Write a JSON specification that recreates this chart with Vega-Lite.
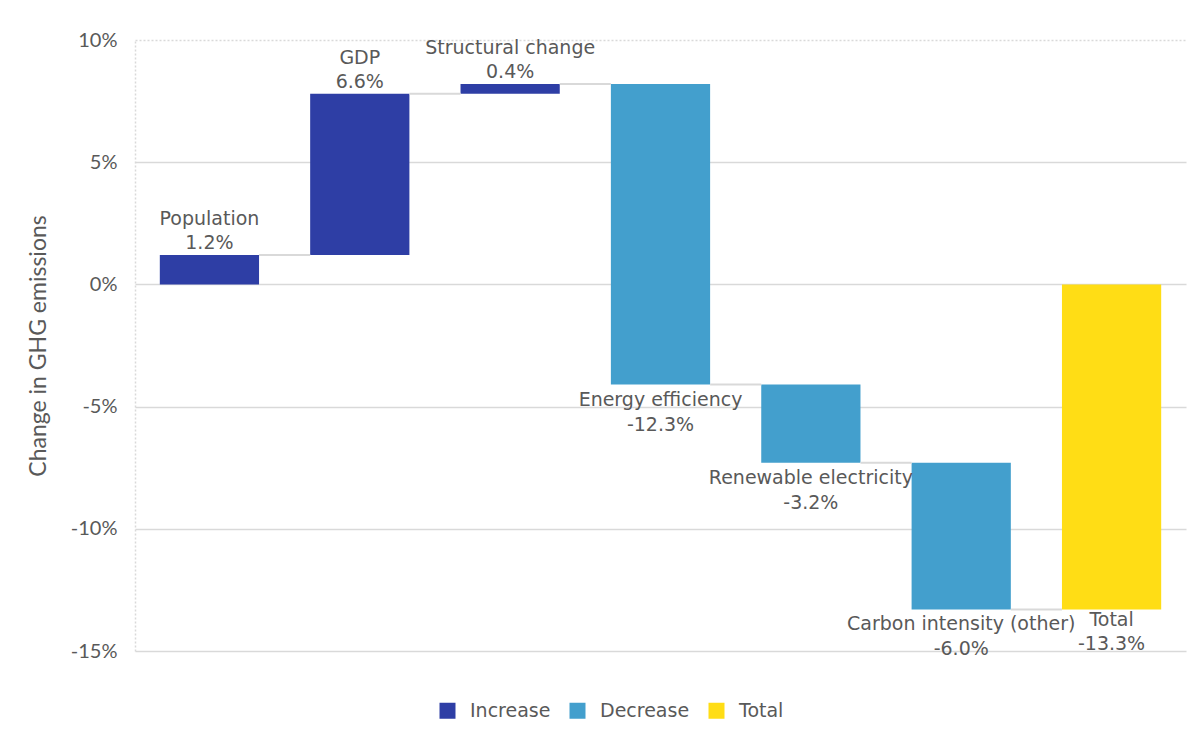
{
  "$schema": "https://vega.github.io/schema/vega-lite/v6.json",
  "width": 1051,
  "height": 611,
  "autosize": {"type": "none"},
  "padding": {"left": 135, "top": 40, "right": 8, "bottom": 100},
  "background": "white",
  "config": {"view": {"stroke": null}, "font": "DejaVu Sans"},
  "data": {
    "values": [
      {"cat": "Population", "next": "GDP", "start": 0, "end": 1.2, "type": "Increase", "lab": "1.2%"},
      {"cat": "GDP", "next": "Structural change", "start": 1.2, "end": 7.8, "type": "Increase", "lab": "6.6%"},
      {"cat": "Structural change", "next": "Energy efficiency", "start": 7.8, "end": 8.2, "type": "Increase", "lab": "0.4%"},
      {"cat": "Energy efficiency", "next": "Renewable electricity", "start": 8.2, "end": -4.1, "type": "Decrease", "lab": "-12.3%"},
      {"cat": "Renewable electricity", "next": "Carbon intensity (other)", "start": -4.1, "end": -7.3, "type": "Decrease", "lab": "-3.2%"},
      {"cat": "Carbon intensity (other)", "next": "Total", "start": -7.3, "end": -13.3, "type": "Decrease", "lab": "-6.0%"},
      {"cat": "Total", "next": null, "start": 0, "end": -13.3, "type": "Total", "lab": "-13.3%"}
    ]
  },
  "encoding": {
    "x": {
      "field": "cat",
      "type": "nominal",
      "sort": null,
      "scale": {
        "domain": ["Population", "GDP", "Structural change", "Energy efficiency", "Renewable electricity", "Carbon intensity (other)", "Total"],
        "paddingInner": 0.34,
        "paddingOuter": 0.165
      },
      "axis": null
    }
  },
  "layer": [
    {
      "mark": {"type": "bar"},
      "encoding": {
        "y": {
          "field": "start",
          "type": "quantitative",
          "title": "Change in GHG emissions",
          "scale": {"domain": [-15, 10], "nice": false, "zero": false},
          "axis": {
            "values": [-15, -10, -5, 0, 5, 10],
            "labelExpr": "datum.value + '%'",
            "grid": true,
            "gridColor": "#d9d9d9",
            "gridWidth": 1.5,
            "gridDash": {"condition": {"test": "datum.value == 10", "value": [2, 2]}, "value": []},
            "ticks": false,
            "domain": true,
            "domainColor": "#d9d9d9",
            "domainDash": [2, 2],
            "domainWidth": 1.5,
            "labelFont": "Lato",
            "labelFontSize": 20,
            "labelColor": "#595959",
            "labelPadding": 18,
            "titleFont": "Lato",
            "titleFontSize": 23,
            "titleFontWeight": "normal",
            "titleColor": "#595959",
            "titlePadding": 20
          }
        },
        "y2": {"field": "end"},
        "color": {
          "field": "type",
          "type": "nominal",
          "scale": {"domain": ["Increase", "Decrease", "Total"], "range": ["#2E3EA5", "#439FCD", "#FFDD15"]},
          "legend": {
            "title": null,
            "orient": "none",
            "direction": "horizontal",
            "legendX": 303,
            "legendY": 661,
            "symbolType": "square",
            "symbolSize": 256,
            "symbolStrokeWidth": 0,
            "labelFont": "DejaVu Sans",
            "labelFontSize": 19,
            "labelColor": "#595959",
            "labelOffset": 13,
            "columnPadding": 17
          }
        }
      }
    },
    {
      "transform": [{"filter": "datum.next != null"}],
      "mark": {"type": "rule", "color": "#d9d9d9", "strokeWidth": 2},
      "encoding": {
        "x": {"field": "cat", "type": "nominal", "bandPosition": 1},
        "x2": {"field": "next", "bandPosition": 0},
        "y": {"field": "end", "type": "quantitative", "title": "Change in GHG emissions"}
      }
    },
    {
      "transform": [{"filter": "datum.type == 'Increase'"}],
      "mark": {"type": "text", "baseline": "alphabetic", "dy": -30, "font": "DejaVu Sans", "fontSize": 19, "color": "#595959"},
      "encoding": {"y": {"field": "end", "type": "quantitative", "title": "Change in GHG emissions"}, "text": {"field": "cat"}}
    },
    {
      "transform": [{"filter": "datum.type == 'Increase'"}],
      "mark": {"type": "text", "baseline": "alphabetic", "dy": -6, "font": "DejaVu Sans", "fontSize": 19, "color": "#595959"},
      "encoding": {"y": {"field": "end", "type": "quantitative", "title": "Change in GHG emissions"}, "text": {"field": "lab"}}
    },
    {
      "transform": [{"filter": "datum.type == 'Decrease'"}],
      "mark": {"type": "text", "baseline": "alphabetic", "dy": 21, "font": "DejaVu Sans", "fontSize": 19, "color": "#595959"},
      "encoding": {"y": {"field": "end", "type": "quantitative", "title": "Change in GHG emissions"}, "text": {"field": "cat"}}
    },
    {
      "transform": [{"filter": "datum.type == 'Decrease'"}],
      "mark": {"type": "text", "baseline": "alphabetic", "dy": 46, "font": "DejaVu Sans", "fontSize": 19, "color": "#595959"},
      "encoding": {"y": {"field": "end", "type": "quantitative", "title": "Change in GHG emissions"}, "text": {"field": "lab"}}
    },
    {
      "transform": [{"filter": "datum.type == 'Total'"}],
      "mark": {"type": "text", "baseline": "alphabetic", "dy": 17, "font": "DejaVu Sans", "fontSize": 19, "color": "#595959"},
      "encoding": {"y": {"field": "end", "type": "quantitative", "title": "Change in GHG emissions"}, "text": {"field": "cat"}}
    },
    {
      "transform": [{"filter": "datum.type == 'Total'"}],
      "mark": {"type": "text", "baseline": "alphabetic", "dy": 41, "font": "DejaVu Sans", "fontSize": 19, "color": "#595959"},
      "encoding": {"y": {"field": "end", "type": "quantitative", "title": "Change in GHG emissions"}, "text": {"field": "lab"}}
    }
  ]
}
